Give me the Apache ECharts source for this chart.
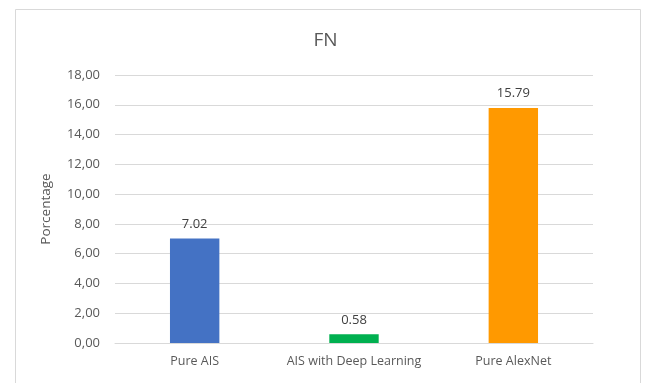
<!DOCTYPE html>
<html>
<head>
<meta charset="utf-8">
<script src="https://cdn.jsdelivr.net/npm/echarts@6/dist/echarts.min.js"></script>
<style>
  html, body { margin: 0; padding: 0; background: #ffffff; }
  #chart { width: 651px; height: 383px; }
</style>
</head>
<body>
<div id="chart"></div>
<script>
// Categories and false-negative percentages per method
const categories = ['Pure AIS', 'AIS with Deep Learning', 'Pure AlexNet'];
const fnValues = [7.02, 0.58, 15.79];
const barColors = ['#4472C4', '#00B050', '#FF9900'];
const yTicks = { min: 0, max: 18, interval: 2 };

const chart = echarts.init(document.getElementById('chart'), null, { renderer: 'canvas' });

chart.setOption({
  backgroundColor: '#ffffff',
  animation: false,
  title: {
    text: 'FN',
    left: 'center',
    top: 26,
    textStyle: { fontFamily: 'Open Sans', fontSize: 19, fontWeight: 'normal', color: '#595959' }
  },
  graphic: [{
    type: 'rect',
    shape: { x: 15.5, y: 9.5, width: 625, height: 390 },
    style: { fill: 'none', stroke: '#D9D9D9', lineWidth: 1 },
    silent: true
  }],
  grid: { left: 115, right: 58, top: 75, bottom: 40 },
  xAxis: {
    type: 'category',
    data: categories,
    axisLine: { show: true, lineStyle: { color: '#D9D9D9' } },
    axisTick: { show: false },
    axisLabel: {
      interval: 0,
      hideOverlap: false,
      color: '#595959',
      fontFamily: 'Open Sans',
      fontSize: 12.5,
      margin: 12
    }
  },
  yAxis: {
    type: 'value',
    min: yTicks.min,
    max: yTicks.max,
    interval: yTicks.interval,
    name: 'Porcentage',
    nameLocation: 'middle',
    nameGap: 62,
    nameRotate: 90,
    nameTextStyle: { color: '#595959', fontFamily: 'Open Sans', fontSize: 13.5 },
    axisLine: { show: false },
    axisTick: { show: false },
    splitLine: { lineStyle: { color: '#D9D9D9' } },
    axisLabel: {
      color: '#595959',
      fontFamily: 'Open Sans',
      fontSize: 13,
      margin: 15,
      formatter: v => v.toFixed(2).replace('.', ',')
    }
  },
  series: [{
    type: 'bar',
    barWidth: '31%',
    data: fnValues.map((v, i) => ({ value: v, itemStyle: { color: barColors[i] } })),
    label: {
      show: true,
      position: 'top',
      distance: 8,
      color: '#404040',
      fontFamily: 'Open Sans',
      fontSize: 13,
      formatter: p => p.value.toFixed(2)
    }
  }]
});
</script>
</body>
</html>
